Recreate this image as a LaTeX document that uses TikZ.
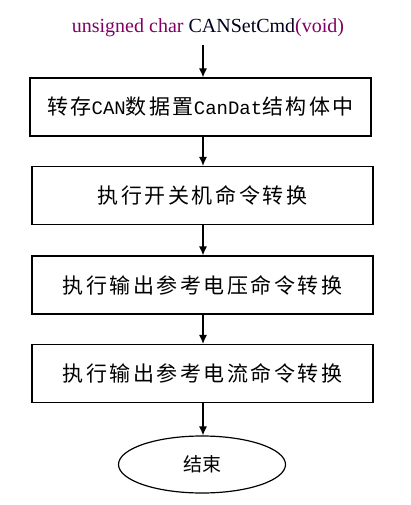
\documentclass[tikz,border=0pt]{standalone}
\usepackage{fontspec}
\setmainfont{Liberation Serif}
\newfontfamily\cjk{Noto Sans CJK SC}
\newfontfamily\cjkspaced{Noto Sans CJK SC}[LetterSpace=12]
\newfontfamily\monolat{Liberation Mono}
\usetikzlibrary{shapes.geometric,arrows.meta}
\definecolor{kw}{RGB}{128,0,100}
\definecolor{fn}{RGB}{0,0,30}
\begin{document}
\begin{tikzpicture}[x=1pt,y=-1pt,
  stepbox/.style={draw,line width=1.2pt,minimum width=341pt,minimum height=58pt,inner sep=0pt,font=\cjkspaced\fontsize{21}{24}\selectfont},
  endnode/.style={draw,ellipse,line width=1.2pt,minimum width=167pt,minimum height=57pt,inner sep=0pt,font=\cjk\fontsize{19}{22}\selectfont},
  flow/.style={-{Latex[length=9pt,width=8pt]},line width=1.2pt}]
\useasboundingbox (0,0) rectangle (411,505);
\node[font=\fontsize{20}{22}\selectfont,inner sep=1pt] (title) at (208,28) {\textcolor{kw}{unsigned char }\textcolor{fn}{CANSetCmd}\textcolor{kw}{(void)}};
\node[stepbox] (s1) at (200.5,107) {转存{\monolat\fontsize{19}{22}\selectfont CAN}数据置{\monolat\fontsize{19}{22}\selectfont CanDat}结构体中};
\node[stepbox] (s2) at (202.5,195.5) {执行开关机命令转换};
\node[stepbox] (s3) at (202.5,285) {执行输出参考电压命令转换};
\node[stepbox] (s4) at (202.5,373.5) {执行输出参考电流命令转换};
\node[endnode] (e) at (202,464.5) {结束};
\coordinate (t0) at (203,45);
\draw[flow] (t0) -- (s1.north -| t0);
\draw[flow] (s1.south -| t0) -- (s2.north -| t0);
\draw[flow] (s2.south -| t0) -- (s3.north -| t0);
\draw[flow] (s3.south -| t0) -- (s4.north -| t0);
\draw[flow] (s4.south -| t0) -- (e.north -| t0);
\end{tikzpicture}
\end{document}
